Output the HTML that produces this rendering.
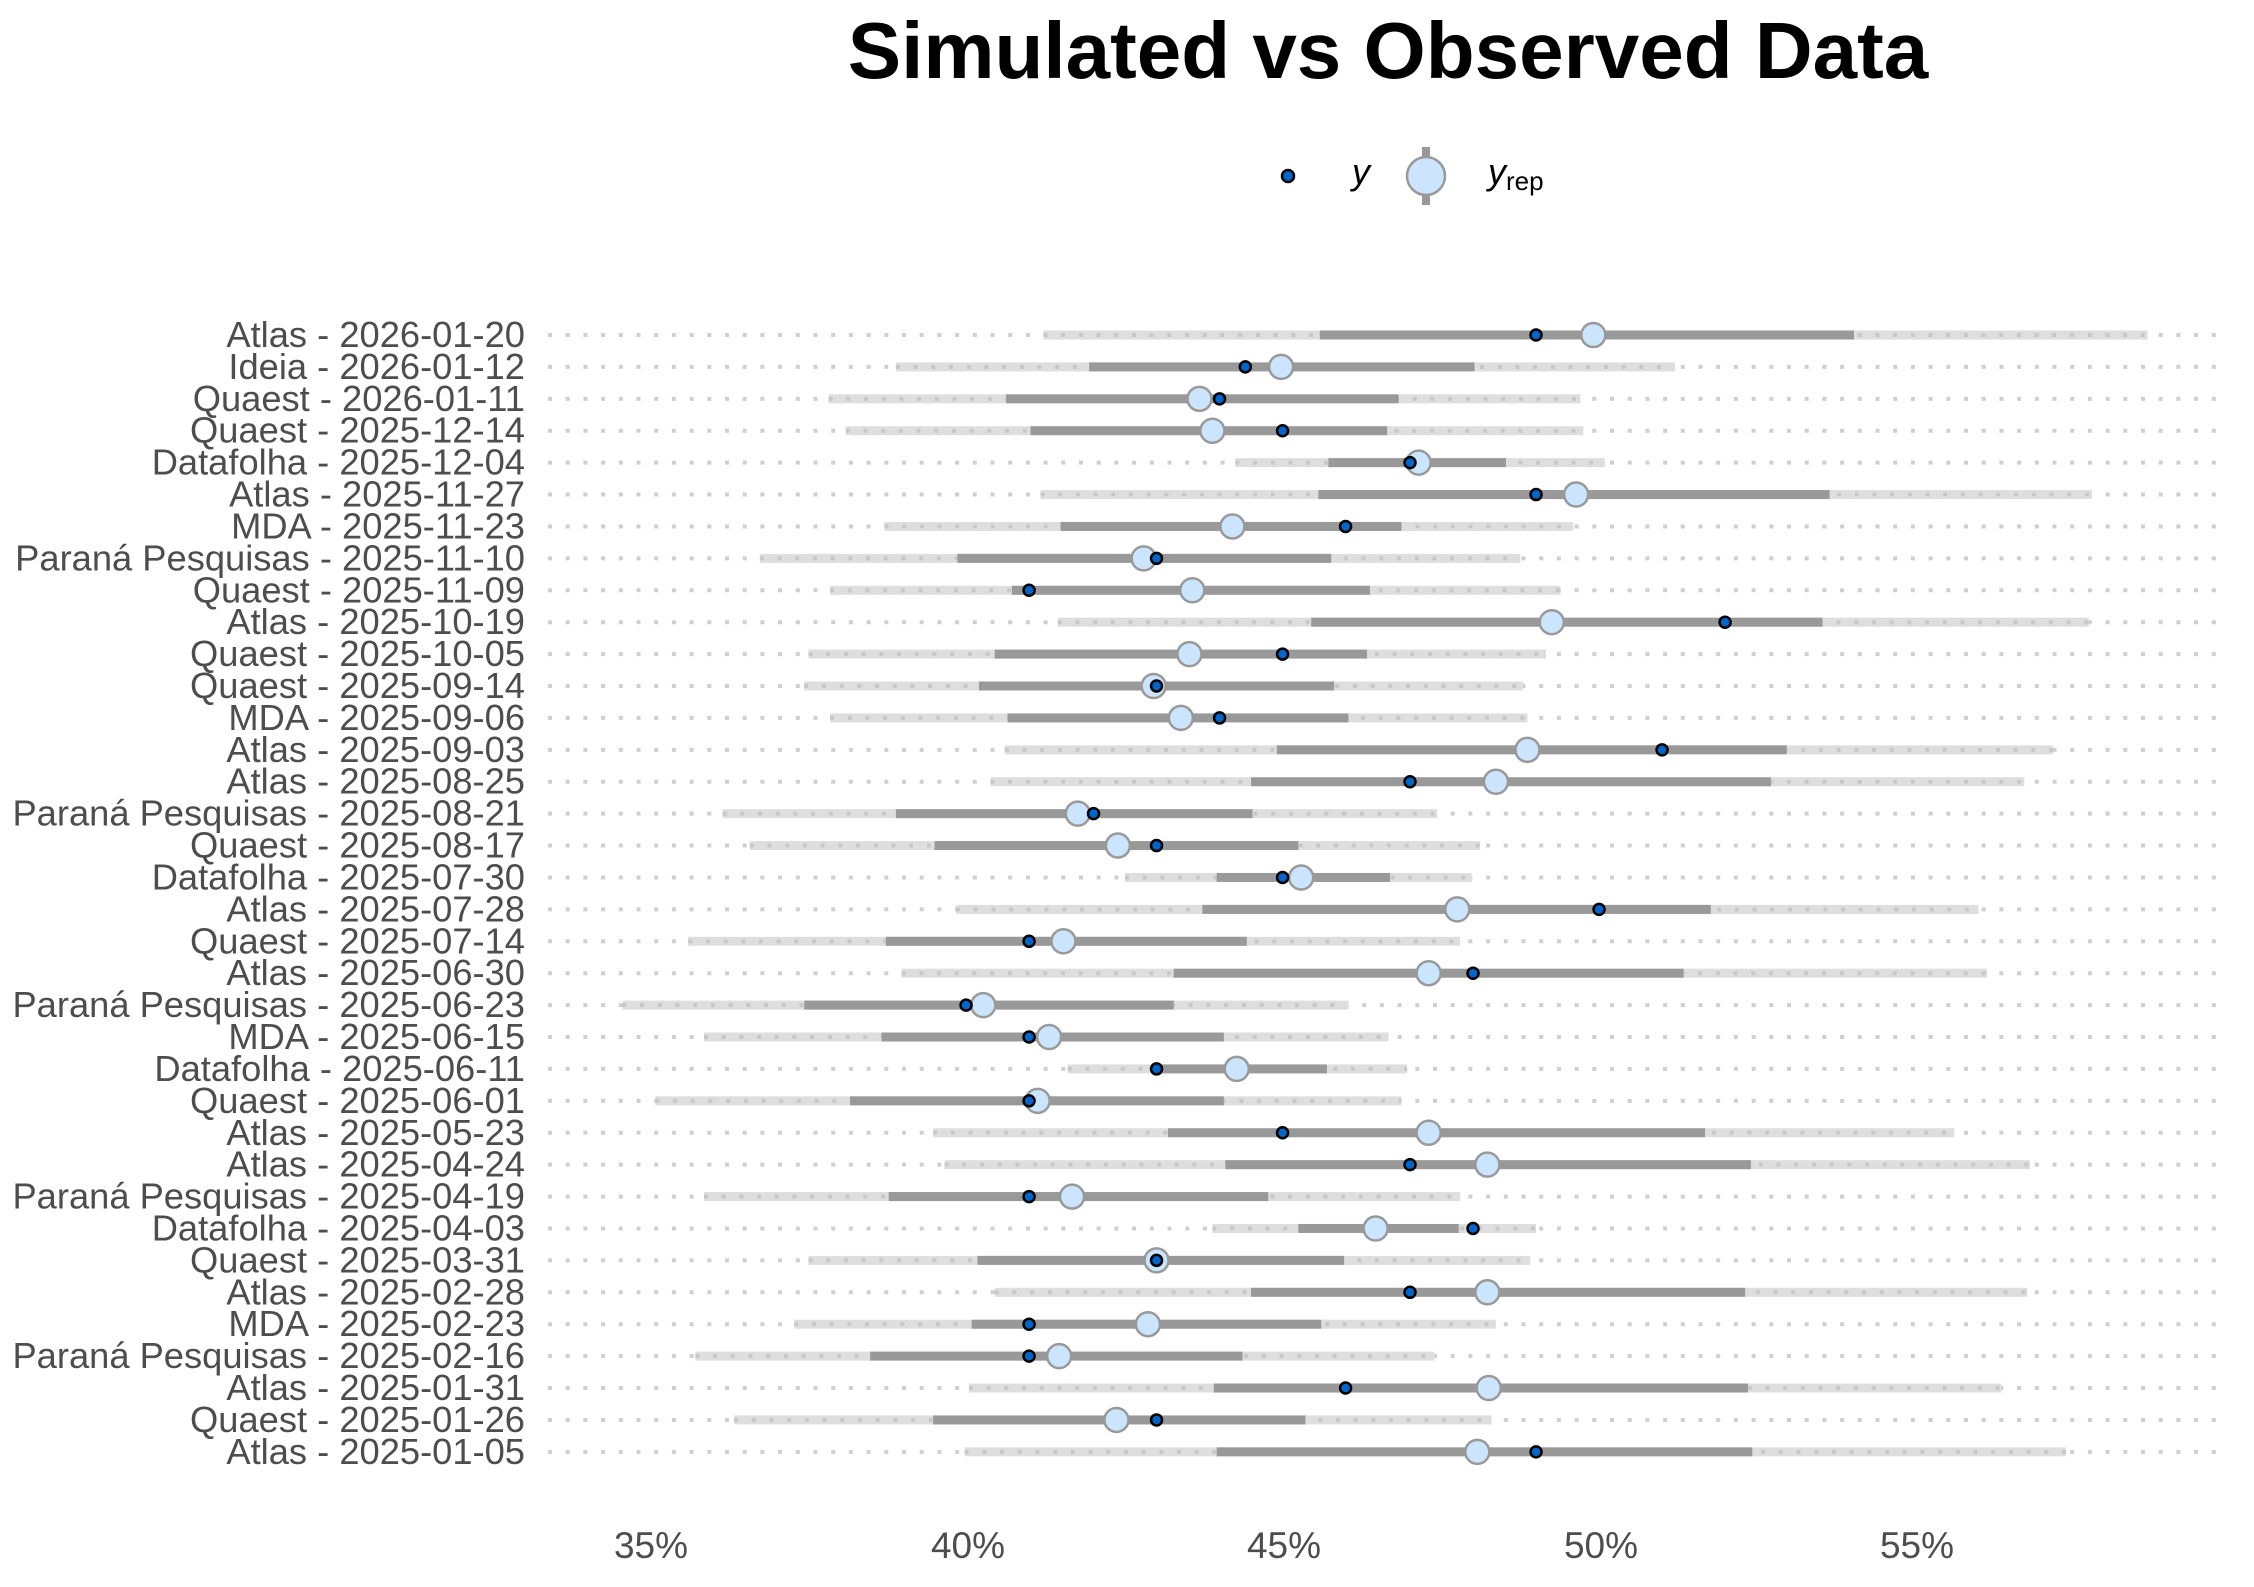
<!DOCTYPE html>
<html><head><meta charset="utf-8"><style>
html,body{margin:0;padding:0;background:#fff;}
svg{display:block;}
</style></head><body>
<svg id="c" width="2254" height="1587" xmlns="http://www.w3.org/2000/svg" font-family="Liberation Sans, sans-serif">
<text x="1388" y="78" font-size="80" font-weight="bold" text-anchor="middle" fill="#000">Simulated vs Observed Data</text>
<circle cx="1288" cy="176" r="6" fill="#0066cc" stroke="#000" stroke-width="2.5"/>
<text x="1352" y="184" font-size="36" font-style="italic" fill="#000">y</text>
<rect x="1422" y="147" width="8" height="58" fill="#999"/>
<circle cx="1426" cy="176" r="19" fill="#cce5ff" stroke="#999" stroke-width="2.5"/>
<text x="1488" y="184" font-size="36" fill="#000"><tspan font-style="italic">y</tspan><tspan font-size="26" dy="6">rep</tspan></text>
<g id="rows"></g>
<g font-size="37" fill="#4d4d4d" text-anchor="middle">
<text x="651" y="1558">35%</text><text x="968" y="1558">40%</text><text x="1284" y="1558">45%</text><text x="1601" y="1558">50%</text><text x="1917" y="1558">55%</text>
</g>
</svg>
<script>
var d=[
["Atlas - 2026-01-20",727,920,1111,1293,1498,1071],
["Ideia - 2026-01-12",624,759,893,1028,1168,868],
["Quaest - 2026-01-11",577,701,836,975,1102,850],
["Quaest - 2025-12-14",589,718,845,967,1104,894],
["Datafolha - 2025-12-04",861,926,989,1050,1119,983],
["Atlas - 2025-11-27",725,919,1099,1276,1459,1071],
["MDA - 2025-11-23",616,739,859,977,1097,938],
["Paraná Pesquisas - 2025-11-10",529,667,797,928,1060,806],
["Quaest - 2025-11-09",578,705,831,955,1088,717],
["Atlas - 2025-10-19",737,914,1082,1271,1457,1203],
["Quaest - 2025-10-05",563,693,829,953,1078,894],
["Quaest - 2025-09-14",560,682,804,930,1062,806],
["MDA - 2025-09-06",578,702,823,940,1065,850],
["Atlas - 2025-09-03",700,890,1065,1246,1432,1159],
["Atlas - 2025-08-25",690,872,1043,1235,1412,983],
["Paraná Pesquisas - 2025-08-21",503,624,751,873,1002,762],
["Quaest - 2025-08-17",522,651,779,905,1032,806],
["Datafolha - 2025-07-30",784,848,907,969,1026,894],
["Atlas - 2025-07-28",666,838,1016,1193,1380,1115],
["Quaest - 2025-07-14",479,617,741,869,1018,717],
["Atlas - 2025-06-30",628,818,996,1174,1386,1027],
["Paraná Pesquisas - 2025-06-23",433,560,685,818,940,673],
["MDA - 2025-06-15",490,614,731,853,968,717],
["Datafolha - 2025-06-11",744,806,862,925,981,806],
["Quaest - 2025-06-01",456,592,723,853,977,717],
["Atlas - 2025-05-23",650,814,996,1189,1363,894],
["Atlas - 2025-04-24",658,854,1037,1221,1416,983],
["Paraná Pesquisas - 2025-04-19",490,619,747,884,1018,717],
["Datafolha - 2025-04-03",845,905,959,1017,1071,1027],
["Quaest - 2025-03-31",563,681,806,937,1067,806],
["Atlas - 2025-02-28",693,872,1037,1217,1414,983],
["MDA - 2025-02-23",553,677,800,921,1043,717],
["Paraná Pesquisas - 2025-02-16",484,606,738,866,1000,717],
["Atlas - 2025-01-31",675,846,1038,1219,1396,938],
["Quaest - 2025-01-26",511,650,778,910,1040,806],
["Atlas - 2025-01-05",672,848,1030,1222,1441,1071]];
function X(v){return 651+(v-453)*1.4321;}
var s="";
for(var i=0;i<d.length;i++){
 var r=d[i],y=335+i*31.91;
 s+='<text x="525" y="'+(y+12)+'" font-size="36.3" fill="#4d4d4d" text-anchor="end">'+r[0]+'</text>';
 s+='<line x1="548" x2="2222" y1="'+y+'" y2="'+y+'" stroke="#cfcfcf" stroke-width="4" stroke-dasharray="4 13.7"/>';
 s+='<rect x="'+X(r[1])+'" y="'+(y-4.5)+'" width="'+(X(r[5])-X(r[1]))+'" height="9" fill="#dedede"/>';
 s+='<line x1="'+X(r[1])+'" x2="'+X(r[5])+'" y1="'+y+'" y2="'+y+'" stroke="#c8c8c8" stroke-width="4" stroke-dasharray="4 13.7"/>';
 s+='<rect x="'+X(r[2])+'" y="'+(y-4.5)+'" width="'+(X(r[4])-X(r[2]))+'" height="9" fill="#999"/>';
 s+='<circle cx="'+X(r[3])+'" cy="'+y+'" r="12" fill="#cce5ff" stroke="#999" stroke-width="2.5"/>';
 s+='<circle cx="'+X(r[6])+'" cy="'+y+'" r="5.5" fill="#0066cc" stroke="#000" stroke-width="2.5"/>';
}
document.getElementById("rows").innerHTML=s;
</script>
</body></html>
